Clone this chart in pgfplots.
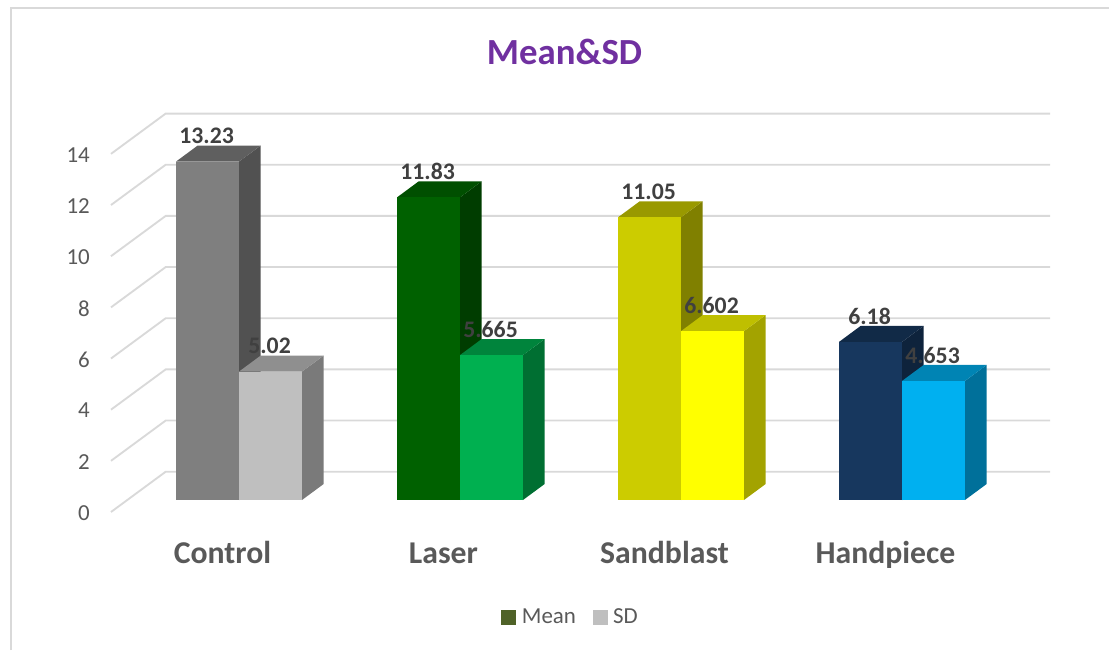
\documentclass[border=0pt]{standalone}
\usepackage{fontspec}
\setmainfont{Carlito}
\usepackage{pgfplots}
\pgfplotsset{compat=1.18}
\definecolor{gridc}{HTML}{D9D9D9}
\definecolor{tickc}{HTML}{595959}
\definecolor{labc}{HTML}{404040}
\definecolor{titlec}{HTML}{7030A0}
\definecolor{legm}{HTML}{4F6228}
\definecolor{legs}{HTML}{BFBFBF}
\definecolor{aF}{HTML}{7F7F7F}\definecolor{aT}{HTML}{5F5F5F}\definecolor{aS}{HTML}{515151}
\definecolor{bF}{HTML}{BFBFBF}\definecolor{bT}{HTML}{8F8F8F}\definecolor{bS}{HTML}{7A7A7A}
\definecolor{cF}{HTML}{006100}\definecolor{cT}{HTML}{004F00}\definecolor{cS}{HTML}{003D00}
\definecolor{dF}{HTML}{00B050}\definecolor{dT}{HTML}{00843C}\definecolor{dS}{HTML}{006F32}
\definecolor{eF}{HTML}{CCCC00}\definecolor{eT}{HTML}{999900}\definecolor{eS}{HTML}{808000}
\definecolor{fF}{HTML}{FFFF00}\definecolor{fT}{HTML}{BFBF00}\definecolor{fS}{HTML}{A3A300}
\definecolor{gF}{HTML}{17375E}\definecolor{gT}{HTML}{112A47}\definecolor{gS}{HTML}{0E233C}
\definecolor{hF}{HTML}{00B0F0}\definecolor{hT}{HTML}{0084B4}\definecolor{hS}{HTML}{00709A}
% one 3-D column: left edge, value, front, top, side colours
\newcommand\tdbar[5]{%
  \pgfmathsetmacro\cR{#1+0.285}%
  \pgfmathsetmacro\cC{#1+0.1425}%
  \pgfmathsetmacro\cL{#1}%
  \pgfmathsetmacro\cRd{\cR+0.098}%
  \pgfmathsetmacro\cLd{\cL+0.098}%
  \pgfmathsetmacro\cVd{#2+0.6255}%
  \addplot[forget plot,fill=#5,draw=none] coordinates {(\cR,0) (\cRd,0.6255) (\cRd,\cVd) (\cR,#2)} -- cycle;
  \addplot[forget plot,fill=#4,draw=none] coordinates {(\cL,#2) (\cR,#2) (\cRd,\cVd) (\cLd,\cVd)} -- cycle;
  \addplot[forget plot,ybar,bar width=0.285,bar shift=0,fill=#3,draw=none,
    nodes near coords={#2},
    nodes near coords style={anchor=center,yshift=19.2pt,xshift=-0.7pt,font=\fontsize{17.8pt}{20pt}\selectfont\bfseries,text=labc,inner sep=0pt}]
    coordinates {(\cC,#2)};
}
\newcommand\gridl[1]{%
  \pgfmathsetmacro\gF{#1-0.469}%
  \pgfmathsetmacro\gB{#1+1.106}%
  \addplot[forget plot,gridc,line width=1.4pt] coordinates {(-0.5792,\gF) (-0.3317,\gB) (3.6697,\gB)};
}
\begin{document}
\begin{tikzpicture}[x=0.75pt,y=0.75pt]
\path[use as bounding box] (0,0) rectangle (1109,650);
\draw[gridc,line width=1.3pt] (11,0) -- (11,642) -- (1109,642);
\begin{axis}[
  at={(83.25pt,112.5pt)},anchor=south west,
  scale only axis,width=704.25pt,height=268.6pt,
  xmin=-0.5792,xmax=3.6697,ymin=0,ymax=14,
  clip=false,
  axis line style={draw=none},
  major tick length=0pt,
  xtick={0,1,2,3},
  xticklabels={Control,Laser,Sandblast,Handpiece},
  ytick={0,2,4,6,8,10,12,14},
  /pgf/number format/assume math mode=true,
  xticklabel style={font=\fontsize{23.8pt}{28pt}\selectfont\bfseries,text=tickc,anchor=base,xshift=-12.4pt,yshift=-47.7pt},
  yticklabel style={font=\fontsize{17.2pt}{20pt}\selectfont,text=tickc,anchor=east,xshift=-15.7pt,yshift=-9.7pt,inner sep=0pt},
  title={Mean\&SD},
  title style={at={(axis description cs:0.483,1.229)},anchor=center,font=\fontsize{27.6pt}{32pt}\selectfont\bfseries,text=titlec},
  legend style={at={(axis description cs:0.4898,-0.3268)},anchor=center,draw=none,fill=none,
    font=\fontsize{17.2pt}{20pt}\selectfont,text=tickc,
    /tikz/every odd column/.append style={column sep=2.5pt},
    /tikz/every even column/.append style={column sep=10.5pt}},
  legend columns=2,
]
\gridl{0}\gridl{2}\gridl{4}\gridl{6}\gridl{8}\gridl{10}\gridl{12}\gridl{14}
\tdbar{-0.285}{13.23}{aF}{aT}{aS}
\tdbar{0}{5.02}{bF}{bT}{bS}
\tdbar{0.715}{11.83}{cF}{cT}{cS}
\tdbar{1}{5.665}{dF}{dT}{dS}
\tdbar{1.715}{11.05}{eF}{eT}{eS}
\tdbar{2}{6.602}{fF}{fT}{fS}
\tdbar{2.715}{6.18}{gF}{gT}{gS}
\tdbar{3}{4.653}{hF}{hT}{hS}
\addlegendimage{legend image code/.code={\fill[legm] (0pt,-5.25pt) rectangle (10.5pt,5.25pt);}}
\addlegendentry{Mean}
\addlegendimage{legend image code/.code={\fill[legs] (0pt,-5.25pt) rectangle (10.5pt,5.25pt);}}
\addlegendentry{SD}
\end{axis}
\end{tikzpicture}
\end{document}
